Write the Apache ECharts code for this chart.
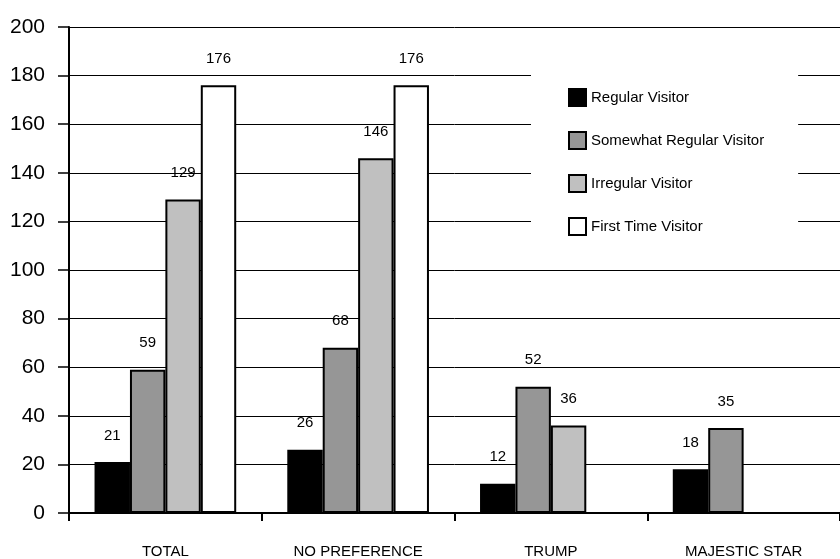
<!DOCTYPE html>
<html>
<head>
<meta charset="utf-8">
<style>
  html, body { margin: 0; padding: 0; background: #fff; }
  #chart { width: 840px; height: 559px; }
</style>
<script src="https://cdn.jsdelivr.net/npm/echarts@6/dist/echarts.min.js"></script>
</head>
<body>
<div id="chart"></div>
<script>
// data
var categories = ['TOTAL', 'NO PREFERENCE', 'TRUMP', 'MAJESTIC STAR'];
var seriesNames = ['Regular Visitor', 'Somewhat Regular Visitor', 'Irregular Visitor', 'First Time Visitor'];
var regular = [21, 26, 12, 18];
var somewhat = [59, 68, 52, 35];
var irregular = [129, 146, 36, null];
var firstTime = [176, 176, null, null];
var yTicks = [0, 20, 40, 60, 80, 100, 120, 140, 160, 180, 200];

var colors = ['#000000', '#969696', '#c0c0c0', '#ffffff'];
var allValues = [regular, somewhat, irregular, firstTime];

function makeSeries(i) {
  return {
    name: seriesNames[i],
    type: 'bar',
    data: allValues[i],
    barGap: '0%',
    barCategoryGap: '26.5%',
    itemStyle: {
      color: colors[i],
      borderColor: '#000',
      borderWidth: 2
    },
    label: {
      show: true,
      position: 'top',
      distance: 19,
      color: '#000',
      fontFamily: 'Liberation Sans, Arial, sans-serif',
      fontSize: 15
    }
  };
}

var chart = echarts.init(document.getElementById('chart'));
var option = {
  animation: false,
  backgroundColor: '#fff',
  textStyle: { fontFamily: 'Liberation Sans, Arial, sans-serif' },
  grid: {
    left: 69,
    right: -7,
    top: 27,
    bottom: 46,
    containLabel: false
  },
  legend: {
    orient: 'vertical',
    left: 531,
    top: 55,
    padding: [33, 34, 24, 37],
    backgroundColor: '#fff',
    itemWidth: 17,
    itemHeight: 17,
    itemGap: 24,
    icon: 'rect',
    itemStyle: { borderColor: '#000', borderWidth: 2 },
    textStyle: { fontSize: 15, color: '#000' },
    data: seriesNames
  },
  xAxis: {
    type: 'category',
    data: categories,
    axisLine: { lineStyle: { color: '#000', width: 2 } },
    axisTick: { show: true, length: 8, lineStyle: { color: '#000', width: 2 } },
    axisLabel: { color: '#000', fontSize: 15, margin: 31 }
  },
  yAxis: {
    type: 'value',
    min: yTicks[0],
    max: yTicks[yTicks.length - 1],
    interval: 20,
    axisLine: { show: true, lineStyle: { color: '#000', width: 2 } },
    axisTick: { show: true, length: 11, lineStyle: { color: '#000', width: 1.5 } },
    axisLabel: { color: '#000', fontSize: 21, margin: 24 },
    splitLine: { show: true, lineStyle: { color: '#000', width: 1 } }
  },
  series: [makeSeries(0), makeSeries(1), makeSeries(2), makeSeries(3)]
};
chart.setOption(option);
</script>
</body>
</html>
